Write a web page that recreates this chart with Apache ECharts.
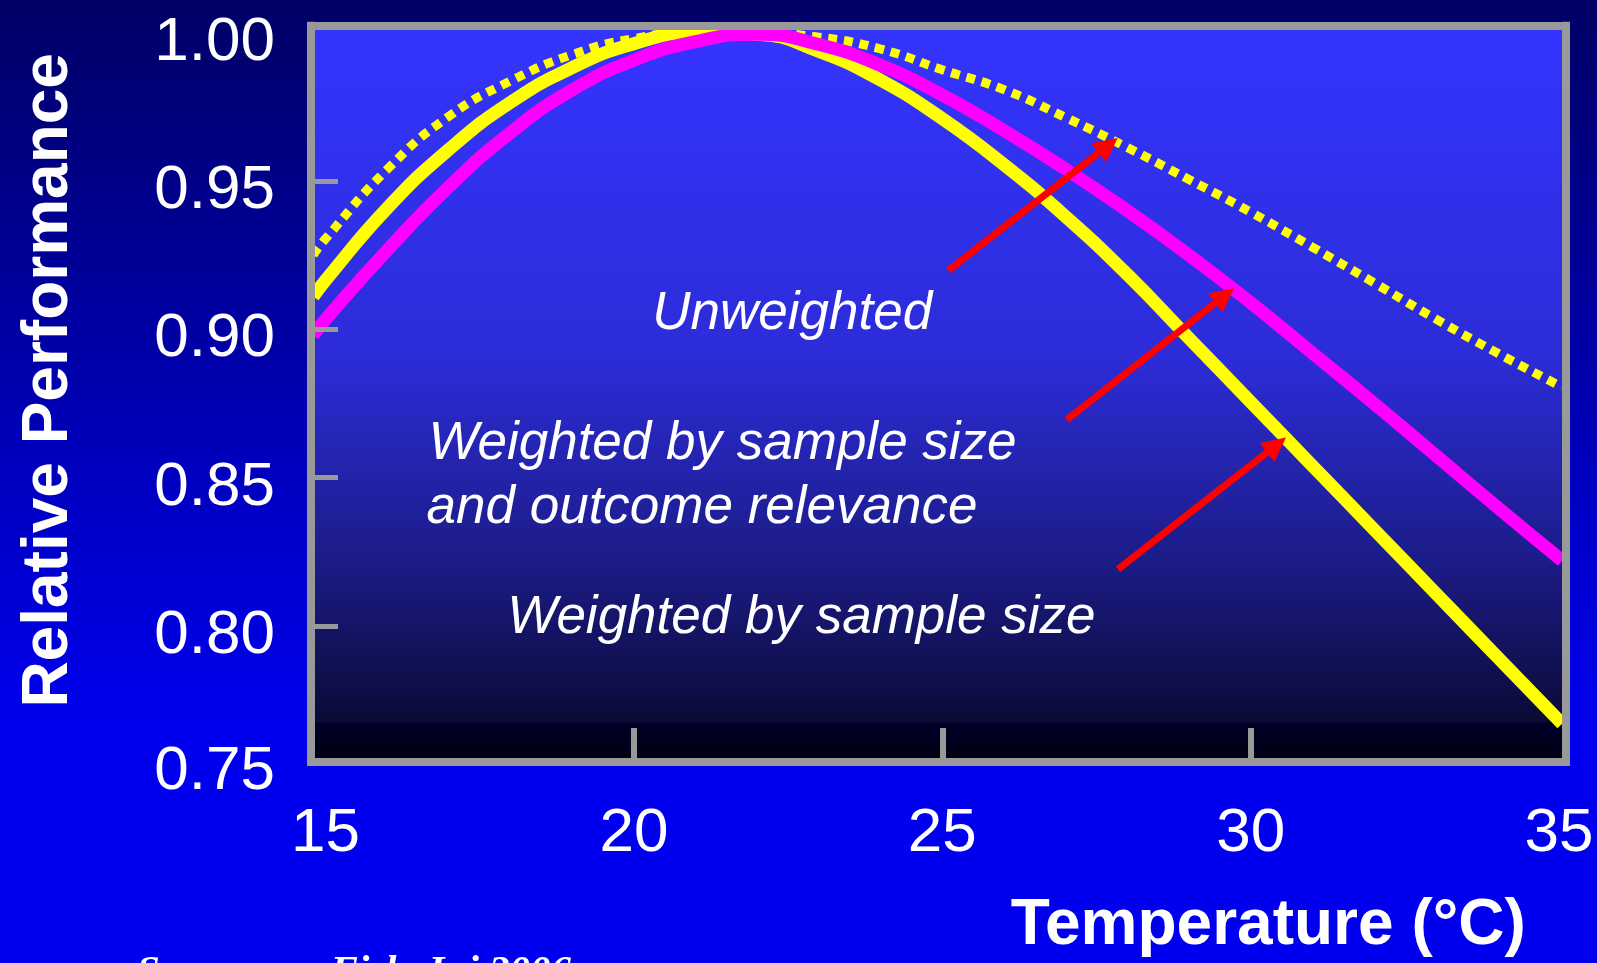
<!DOCTYPE html>
<html>
<head>
<meta charset="utf-8">
<title>Relative Performance vs Temperature</title>
<script src="https://cdn.jsdelivr.net/npm/echarts@6/dist/echarts.min.js"></script>
<style>
    html, body { margin: 0; padding: 0; }
    body { background: linear-gradient(#000066 0%, #0000ee 75%, #0000ee 100%); }
    #chart { width: 1597px; height: 963px; }
</style>
</head>
<body>
<div id="chart"></div>
<script>
// temperature samples (first and last are the plot edges)
const temps = [14.80, 15, 16, 17, 18, 19, 20, 21, 22, 23, 24, 25, 26, 27, 28, 29, 30, 31, 32, 33, 34, 35.05];

// relative performance curves
const unweighted = [0.925, 0.9305, 0.9539, 0.9718, 0.9837, 0.9926, 0.998, 1.000, 0.9998, 0.9985, 0.9945, 0.9875, 0.9808, 0.9714, 0.9613, 0.9505, 0.9395, 0.9277, 0.9157, 0.9035, 0.892, 0.8805];
const weightedBySize = [0.911, 0.9165, 0.9408, 0.9606, 0.9765, 0.9882, 0.9963, 1.000, 0.9995, 0.9937, 0.984, 0.971, 0.9555, 0.938, 0.9185, 0.897, 0.8755, 0.854, 0.8325, 0.811, 0.7895, 0.767];
const weightedBySizeRelevance = [0.898, 0.9033, 0.9266, 0.948, 0.9663, 0.9807, 0.9907, 0.997, 0.9995, 0.996, 0.989, 0.979, 0.967, 0.954, 0.940, 0.925, 0.909, 0.892, 0.875, 0.8575, 0.840, 0.822];

const xLabels = [15, 20, 25, 30, 35];
const xTicks = [20, 25, 30];
const yLabels = [0.7541, 0.80, 0.85, 0.90, 0.95, 1.00];
const yTicks = [0.80, 0.85, 0.90, 0.95];

// annotation texts [text, temperature, performance]
const notes = [
    ['Unweighted', 20.29, 0.9052],
    ['Weighted by sample size', 16.66, 0.8613],
    ['and outcome relevance', 16.63, 0.8395],
    ['Weighted by sample size', 17.94, 0.8026]
];
// arrows [fromT, fromP, toT, toP]
const arrows = [
    [25.10, 0.9198, 27.69, 0.962],
    [27.02, 0.8695, 29.58, 0.9114],
    [27.85, 0.8191, 30.42, 0.861]
];

const font = 'Liberation Sans';
const frameColor = '#999999';

function pairs(ys) {
    return temps.map((t, i) => [t, ys[i]]);
}

let chart = echarts.init(document.getElementById('chart'));

let frameLine = {
    show: true,
    lineStyle: { color: frameColor, width: 8, cap: 'square' }
};

let option = {
    animation: false,
    backgroundColor: 'transparent',
    title: {
        text: 'Source:      Fish. Inj 2006',
        left: 137,
        top: 952,
        padding: 0,
        textStyle: {
            color: '#ffffff',
            fontFamily: 'Liberation Serif',
            fontStyle: 'italic',
            fontWeight: 'bold',
            fontSize: 41
        }
    },
    grid: {
        left: 311,
        top: 25.7,
        right: 31.5,
        bottom: 197.5,
        show: true,
        borderWidth: 0,
        backgroundColor: {
            type: 'linear', x: 0, y: 0, x2: 0, y2: 1,
            colorStops: [
                { offset: 0, color: '#3434ff' },
                { offset: 0.45, color: '#2c2cd8' },
                { offset: 0.72, color: '#1c1c8a' },
                { offset: 0.9, color: '#0e0e48' },
                { offset: 0.945, color: '#0b0b34' },
                { offset: 0.947, color: '#00002a' },
                { offset: 1, color: '#000010' }
            ]
        }
    },
    xAxis: [
        {
            type: 'value',
            min: 14.765,
            max: 35.105,
            z: 5,
            axisLine: frameLine,
            splitLine: { show: false },
            axisTick: {
                show: true,
                inside: true,
                length: 34,
                customValues: xTicks,
                lineStyle: { color: frameColor, width: 6 }
            },
            axisLabel: {
                customValues: xLabels,
                color: '#ffffff',
                fontFamily: font,
                fontSize: 62,
                margin: 41
            },
            name: 'Temperature (°C)',
            nameLocation: 'middle',
            nameGap: 132,
            nameTextStyle: {
                color: '#ffffff',
                fontFamily: font,
                fontWeight: 'bold',
                fontSize: 64,
                padding: [0, 0, 0, 660]
            }
        },
        {
            type: 'value',
            position: 'top',
            min: 14.765,
            max: 35.105,
            z: 5,
            axisLine: frameLine,
            axisTick: { show: false },
            axisLabel: { show: false },
            splitLine: { show: false }
        }
    ],
    yAxis: [
        {
            type: 'value',
            min: 0.7541,
            max: 1.00235,
            z: 5,
            axisLine: frameLine,
            splitLine: { show: false },
            axisTick: {
                show: true,
                inside: true,
                length: 27,
                customValues: yTicks,
                lineStyle: { color: frameColor, width: 5 }
            },
            axisLabel: {
                customValues: yLabels,
                formatter: v => (Math.round(v * 20) / 20).toFixed(2),
                color: '#ffffff',
                fontFamily: font,
                fontSize: 62,
                margin: 36,
                verticalAlign: 'top',
                lineHeight: 20
            },
            name: 'Relative Performance',
            nameLocation: 'middle',
            nameRotate: 90,
            nameGap: 230,
            nameTextStyle: {
                color: '#ffffff',
                fontFamily: font,
                fontWeight: 'bold',
                fontSize: 64,
                padding: [0, 0, 0, 27]
            }
        },
        {
            type: 'value',
            position: 'right',
            min: 0.7541,
            max: 1.00235,
            z: 5,
            axisLine: frameLine,
            axisTick: { show: false },
            axisLabel: { show: false },
            splitLine: { show: false }
        }
    ],
    series: [
        {
            name: 'Unweighted',
            type: 'line',
            smooth: true,
            symbol: 'none',
            data: pairs(unweighted),
            lineStyle: { color: '#ffff00', width: 9, type: [9, 7] },
            markLine: {
                silent: true,
                symbol: ['none', 'triangle'],
                symbolSize: 24,
                label: { show: false },
                lineStyle: { color: '#ff0000', width: 7, type: 'solid' },
                itemStyle: { color: '#ff0000' },
                data: arrows.map(a => [
                    { coord: [a[0], a[1]], symbol: 'none' },
                    { coord: [a[2], a[3]], symbol: 'triangle', symbolSize: 24 }
                ])
            },
            markPoint: {
                silent: true,
                symbol: 'rect',
                symbolSize: 1,
                itemStyle: { color: 'transparent' },
                label: {
                    show: true,
                    position: 'right',
                    distance: 0,
                    formatter: '{b}',
                    color: '#ffffff',
                    fontFamily: font,
                    fontStyle: 'italic',
                    fontSize: 53
                },
                data: notes.map(n => ({ name: n[0], coord: [n[1], n[2]] }))
            }
        },
        {
            name: 'Weighted by sample size',
            type: 'line',
            smooth: true,
            symbol: 'none',
            data: pairs(weightedBySize),
            lineStyle: { color: '#ffff00', width: 13 }
        },
        {
            name: 'Weighted by sample size and outcome relevance',
            type: 'line',
            smooth: true,
            symbol: 'none',
            data: pairs(weightedBySizeRelevance),
            lineStyle: { color: '#ff00ff', width: 13 }
        }
    ]
};

chart.setOption(option);
</script>
</body>
</html>
